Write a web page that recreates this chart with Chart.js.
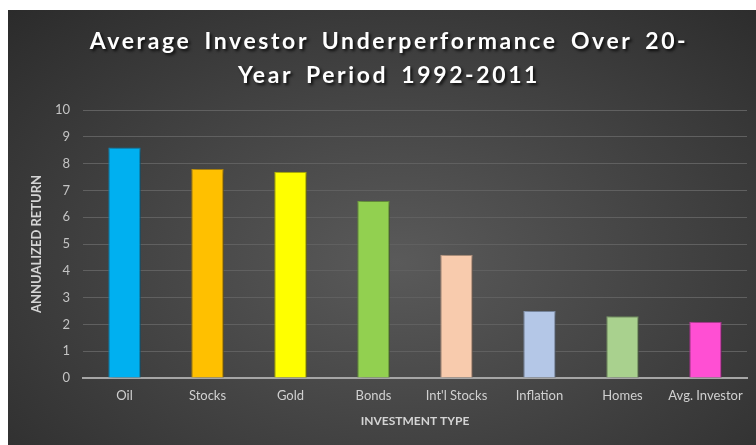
<!DOCTYPE html>
<html lang="en">
<head>
    <meta charset="UTF-8">
    <title>Average Investor Underperformance</title>
    <script src="https://cdn.jsdelivr.net/npm/chart.js"></script>
    <style>
        body { margin: 0; background: #ffffff; }
        .quadro {
            position: absolute;
            left: 8px; top: 10px;
            width: 748px; height: 435px;
            background: radial-gradient(ellipse at 52% 58%, #5a5a5a 0%, #454545 45%, #2b2b2b 100%);
        }
        .titulo {
            position: absolute;
            left: 7px; top: 13px; width: 748px;
            text-align: center;
            color: #ffffff;
            font: bold 23px Lato, sans-serif;
            letter-spacing: 2.6px;
            word-spacing: 5px;
            line-height: 34px;
            text-shadow: 2px 2px 3px rgba(0,0,0,0.8);
        }
        canvas { position: absolute; left: 0; top: 0; }
    </style>
</head>
<body>
    <div class="quadro">
        <canvas id="grafico" width="748" height="435"></canvas>
        <div class="titulo">Average Investor Underperformance Over 20-<br>Year Period 1992-2011</div>
    </div>
<script>
    // dados
    const categorias = ['Oil', 'Stocks', 'Gold', 'Bonds', "Int'l Stocks", 'Inflation', 'Homes', 'Avg. Investor'];
    const retornos = [8.6, 7.8, 7.7, 6.6, 4.6, 2.5, 2.3, 2.1];
    const cores = ['#00B0F0', '#FFC000', '#FFFF00', '#92D050', '#F8CBAD', '#B4C7E7', '#A9D18E', '#FF4FD3'];
    const bordas = ['#1a8fc0', '#c99a10', '#c8c800', '#77a845', '#c9a690', '#8fa0bb', '#86a872', '#c83fa8'];

    // sombra atrás das barras
    const sombra = {
        id: 'sombra',
        beforeDatasetsDraw(chart) {
            const ctx = chart.ctx;
            ctx.save();
            ctx.shadowColor = 'rgba(0,0,0,0.55)';
            ctx.shadowBlur = 6;
            ctx.shadowOffsetX = 2;
            ctx.shadowOffsetY = 1;
        },
        afterDatasetsDraw(chart) {
            chart.ctx.restore();
        }
    };

    new Chart(document.getElementById('grafico'), {
        type: 'bar',
        data: {
            labels: categorias,
            datasets: [{
                data: retornos,
                backgroundColor: cores,
                borderColor: bordas,
                borderWidth: 1,
                categoryPercentage: 1,
                barPercentage: 0.39
            }]
        },
        options: {
            responsive: false,
            animation: false,
            layout: { padding: { top: 100, right: 9, left: 0, bottom: 0 } },
            plugins: {
                legend: { display: false },
                tooltip: { enabled: false }
            },
            scales: {
                y: {
                    min: 0, max: 10,
                    ticks: { stepSize: 1, color: '#c4c4c4', font: { family: 'Lato', size: 13 }, padding: 13 },
                    grid: { color: '#606060', lineWidth: 1, drawTicks: false },
                    border: { display: false },
                    title: {
                        display: true, text: 'ANNUALIZED RETURN', color: '#d4d4d4',
                        font: { family: 'Lato', size: 13, weight: 'bold' }, padding: { top: 21, bottom: 0 }
                    },
                    afterFit(scale) { scale.width = 75; }
                },
                x: {
                    ticks: { color: '#d0d0d0', font: { family: 'Lato', size: 13 }, padding: 10, maxRotation: 0 },
                    grid: { display: false, drawTicks: false },
                    border: { display: true, color: '#a6a6a6', width: 2 },
                    title: {
                        display: true, text: 'INVESTMENT TYPE', color: '#d4d4d4',
                        font: { family: 'Lato', size: 12, weight: 'bold' }, padding: { top: 0, bottom: 17 }
                    },
                    afterFit(scale) { scale.height = 67; }
                }
            }
        },
        plugins: [sombra]
    });
</script>
</body>
</html>
